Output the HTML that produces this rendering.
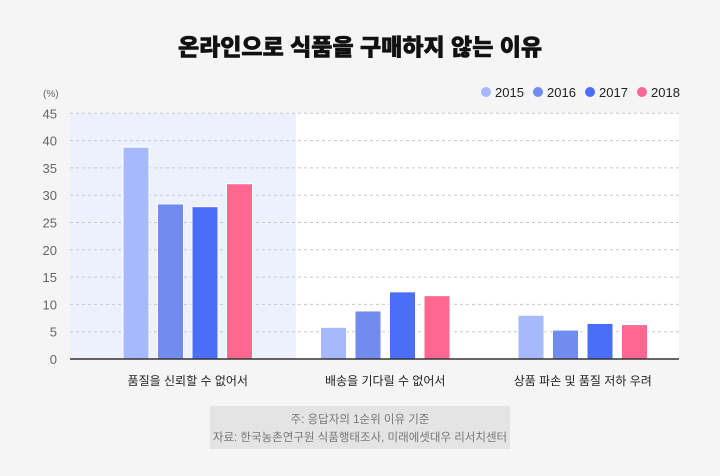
<!DOCTYPE html>
<html><head><meta charset="utf-8"><style>
body{margin:0;background:#f5f5f5;font-family:"Liberation Sans","Noto Sans CJK KR",sans-serif;}
#wrap{position:relative;width:720px;height:476px;overflow:hidden;background:#f5f5f5}
</style></head><body>
<div id="wrap">
<svg id="chart" width="720" height="476" style="position:absolute;left:0;top:0"></svg>
</div>
<script>
const categories=["품질을 신뢰할 수 없어서","배송을 기다릴 수 없어서","상품 파손 및 품질 저하 우려"];
const years=["2015","2016","2017","2018"];
const s2015=[38.8,5.8,8.0];
const s2016=[28.4,8.8,5.3];
const s2017=[27.9,12.3,6.5];
const s2018=[32.1,11.6,6.3];
const yTicks=[0,5,10,15,20,25,30,35,40,45];
const colors=["#a6b9fd","#718bef","#4a6ff6","#ff6690"];
const series=[s2015,s2016,s2017,s2018];
const svg=document.getElementById('chart');
const NS="http://www.w3.org/2000/svg";
function mk(t,a,txt){const e=document.createElementNS(NS,t);for(const k in a)e.setAttribute(k,a[k]);if(txt!=null)e.textContent=txt;svg.appendChild(e);return e;}
const L=70,R=679,T=113.3,B=359,yMax=45;
const y=v=>B-(v/yMax)*(B-T);
const bL=89,bR=681.5,bw=(bR-bL)/categories.length;
const cx=i=>bL+bw*(i+0.5);
let e;
e=mk('text',{x:360,y:55,'text-anchor':'middle','font-size':23,'font-weight':'900',fill:'#111',stroke:'#111','stroke-width':0.6},'온라인으로 식품을 구매하지 않는 이유');

e=mk('rect',{x:L,y:T,width:R-L,height:B-T,fill:'#fff'});

e=mk('rect',{x:L,y:T,width:226,height:B-T,fill:'#edf1fd'});

yTicks.forEach(t=>{
 if(t>0){e=mk('line',{x1:L,x2:R,y1:y(t),y2:y(t),stroke:'#c8c8cc','stroke-dasharray':'3,3','stroke-width':1});
 }
 e=mk('text',{x:57,y:y(t)+5,'text-anchor':'end','font-size':13,fill:'#666'},t);
 
});
e=mk('text',{x:43,y:97,'font-size':10,fill:'#666'},'(%)');

const w=26,step=34.5;
categories.forEach((c,i)=>{
 series.forEach((s,j)=>{
  const x=cx(i)+(j-1.5)*step-w/2;
  e=mk('rect',{x:x,y:y(s[i]),width:w,height:B-y(s[i]),fill:colors[j],stroke:'#fff','stroke-width':1});
  
 });
 e=mk('text',{x:cx(i),y:385,'text-anchor':'middle','font-size':12,fill:'#222'},c);
 
});
e=mk('line',{x1:L,x2:R,y1:B,y2:B,stroke:'#333','stroke-width':1.5});

const lx=[486,538,590,642];
years.forEach((yr,j)=>{
 e=mk('circle',{cx:lx[j],cy:92,r:5,fill:colors[j]});
 
 e=mk('text',{x:lx[j]+9,y:97,'font-size':13,fill:'#222'},yr);
 
});
e=mk('rect',{x:210,y:406,width:300,height:43,fill:'#e4e4e4'});

e=mk('text',{x:360,y:423,'text-anchor':'middle','font-size':11.5,fill:'#777'},'주: 응답자의 1순위 이유 기준');

e=mk('text',{x:360,y:441,'text-anchor':'middle','font-size':11.5,fill:'#777'},'자료: 한국농촌연구원 식품행태조사, 미래에셋대우 리서치센터');

</script>
</body></html>
